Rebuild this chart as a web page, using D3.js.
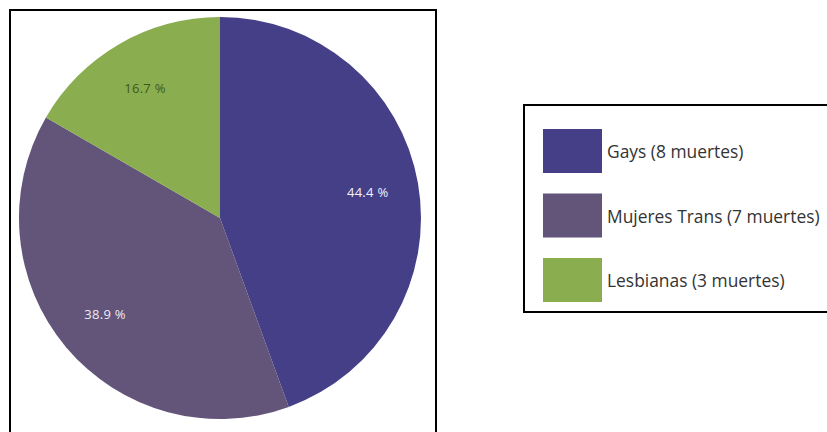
<!DOCTYPE html>
<html><head><meta charset="utf-8">
<script src="https://cdn.jsdelivr.net/npm/d3@7"></script>
<style>html,body{margin:0;padding:0;background:#fff;overflow:hidden}</style>
</head><body>
<svg id="c" width="827" height="432"></svg>
<script>
const categories = ["Gays", "Mujeres Trans", "Lesbianas"];
const deaths = [8, 7, 3];
const percentLabels = ["44.4 %", "38.9 %", "16.7 %"];
const legendLabels = ["Gays (8 muertes)", "Mujeres Trans (7 muertes)", "Lesbianas (3 muertes)"];
const colors = ["#453f88", "#635479", "#8aad50"];
const labelColors = ["#f4f2fb", "#efeaf5", "#3d5a1e"];

const svg = d3.select("#c");
const font = "'Open Sans', sans-serif";

// left frame
svg.append("rect").attr("x", 10).attr("y", 10).attr("width", 426).attr("height", 440)
  .attr("fill", "#fff").attr("stroke", "#000").attr("stroke-width", 2);

const cx = 220, cy = 218, r = 201;
const data = categories.map((c, i) => ({cat: c, v: deaths[i], i}));
const pie = d3.pie().value(d => d.v).sort(null);
const arc = d3.arc().innerRadius(0).outerRadius(r);
const labelArc = d3.arc().innerRadius(150).outerRadius(150);
const g = svg.append("g").attr("transform", `translate(${cx},${cy})`);
const arcs = pie(data);
g.selectAll("path").data(arcs).join("path")
  .attr("d", arc).attr("fill", d => colors[d.data.i]);
g.selectAll("text").data(arcs).join("text")
  .attr("transform", d => `translate(${labelArc.centroid(d)})`)
  .attr("text-anchor", "middle").attr("dominant-baseline", "central")
  .attr("font-family", font).attr("font-size", 13).attr("letter-spacing", 0.3)
  .attr("fill", d => labelColors[d.data.i])
  .text(d => percentLabels[d.data.i]);

// legend
svg.append("rect").attr("x", 524).attr("y", 105).attr("width", 320).attr("height", 207)
  .attr("fill", "#fff").attr("stroke", "#000").attr("stroke-width", 2);
const ly = d3.scalePoint().domain(categories).range([129, 258]);
const lg = svg.append("g");
categories.forEach((c, i) => {
  lg.append("rect").attr("x", 543).attr("y", ly(c)).attr("width", 59).attr("height", 44)
    .attr("fill", colors[i]);
  lg.append("text").attr("x", 607).attr("y", ly(c) + 22)
    .attr("dominant-baseline", "central")
    .attr("font-family", font).attr("font-size", 17.4).attr("fill", "#333")
    .text(legendLabels[i]);
});
</script>
</body></html>
